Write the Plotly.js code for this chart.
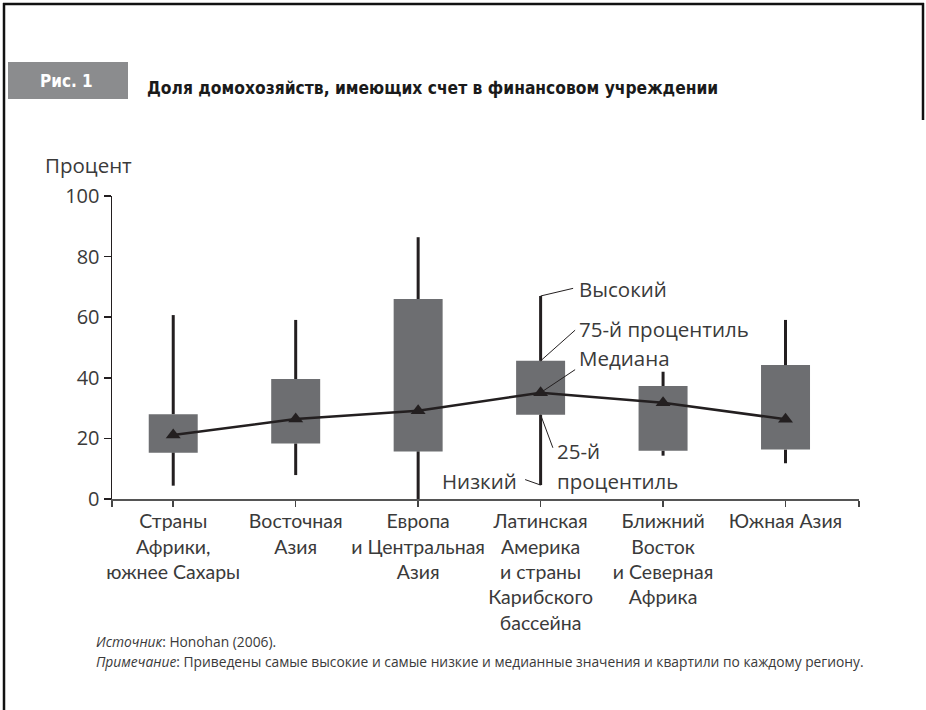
<!DOCTYPE html>
<html>
<head>
<meta charset="utf-8">
<script src="https://cdn.plot.ly/plotly-3.0.1.min.js"></script>
<style>html,body{margin:0;padding:0;background:#fff;}#chart{width:926px;height:710px;}</style>
</head>
<body>
<div id="chart"></div>
<script>
// ---- data ----
const categories = [
  'Страны<br>Африки,<br>южнее Сахары',
  'Восточная<br>Азия',
  'Европа<br>и Центральная<br>Азия',
  'Латинская<br>Америка<br>и страны<br>Карибского<br>бассейна',
  'Ближний<br>Восток<br>и Северная<br>Африка',
  'Южная Азия'
];
const low    = [4.4, 7.9, 0.0, 4.6, 14.3, 11.8];
const q1     = [15.3, 18.3, 15.7, 27.8, 15.9, 16.3];
const median = [21.1, 26.4, 29.1, 35.1, 31.8, 26.3];
const q3     = [28.0, 39.6, 66.0, 45.6, 37.3, 44.2];
const high   = [60.7, 59.1, 86.4, 67.0, 42.0, 59.1];
const yTicks = [0, 20, 40, 60, 80, 100];

const idx = categories.map((c, i) => i);
const ink = '#231f20';
const txt = '#3a3a3a';
const FONT = 'Open Sans, Noto Sans, sans-serif';
const LIGHT = 'Lato, Open Sans, sans-serif';
const NARROW = 'Liberation Sans Narrow, DejaVu Sans Condensed, sans-serif';

// whisker segments (outside the boxes)
const wx = [], wy = [];
idx.forEach(i => {
  wx.push(i, i, null, i, i, null);
  wy.push(low[i], q1[i], null, q3[i], high[i], null);
});

const traces = [
  {
    type: 'bar', x: idx, base: q1, y: idx.map(i => q3[i] - q1[i]),
    width: 0.4, marker: {color: '#6d6e71', line: {width: 0}},
    hoverinfo: 'skip', showlegend: false
  },
  {
    type: 'scatter', mode: 'lines', x: wx, y: wy,
    line: {color: ink, width: 3}, connectgaps: false,
    hoverinfo: 'skip', showlegend: false
  },
  {
    type: 'scatter', mode: 'lines+markers', x: idx, y: median,
    line: {color: ink, width: 2.5},
    marker: {symbol: 'triangle-up', size: 13, color: ink},
    hoverinfo: 'skip', showlegend: false
  }
];

// pixel -> paper helpers (plot area: x 112..859, y 196..499)
const L = 112, R = 859, T = 196, B = 499;
const PX = p => (p - L) / (R - L);
const PY = p => (B - p) / (B - T);

const li = 3; // Latin America index used for the key
function conn(yv, ax, ay) {
  return {x: li, y: yv, xref: 'x', yref: 'y', text: ' ', font: {size: 1},
    showarrow: true, arrowhead: 0, arrowwidth: 1, arrowcolor: ink,
    standoff: 0, startstandoff: 0, ax: ax, ay: ay};
}
function lab(yv, text, xs, ys, anchor) {
  return {x: li, y: yv, xref: 'x', yref: 'y', text: text, showarrow: false,
    xanchor: anchor || 'left', yanchor: 'middle', align: 'left',
    xshift: xs, yshift: ys, font: {family: FONT, size: 20.5, color: txt}};
}

const annotations = [
  // key connectors
  conn(high[li], 34, -8),
  conn(q3[li], 36, -32),
  conn(median[li], 36, -24),
  conn(q1[li], 13, 35),
  conn(low[li], -17, -6),
  // key labels
  lab(high[li], 'Высокий', 36, 7),
  lab(q3[li], '75-й процентиль', 36, 32),
  lab(median[li], 'Медиана', 36, 35),
  lab(q1[li], '25-й', 14, -36),
  lab(q1[li], 'процентиль', 14, -66),
  lab(low[li], 'Низкий', -22, 4, 'right'),
  // y-axis unit
  {xref: 'paper', yref: 'paper', x: PX(43), y: PY(165), xanchor: 'left', yanchor: 'middle',
   text: 'Процент', showarrow: false, font: {family: FONT, size: 20.5, color: txt}},
  // header
  {xref: 'paper', yref: 'paper', x: PX(66), y: PY(81), xanchor: 'center', yanchor: 'middle',
   text: '<b>Рис. 1</b>', showarrow: false, font: {family: NARROW, size: 17, color: '#ffffff'}},
  {xref: 'paper', yref: 'paper', x: PX(145), y: PY(88), xanchor: 'left', yanchor: 'middle',
   text: '<b>Доля домохозяйств, имеющих счет в финансовом учреждении</b>', showarrow: false,
   font: {family: NARROW, size: 17.3, color: '#1a1a1a'}},
  // notes
  {xref: 'paper', yref: 'paper', x: PX(94), y: PY(641), xanchor: 'left', yanchor: 'middle',
   text: '<i>Источник</i>: Honohan (2006).', showarrow: false,
   font: {family: FONT, size: 13.8, color: txt}},
  {xref: 'paper', yref: 'paper', x: PX(94), y: PY(661), xanchor: 'left', yanchor: 'middle',
   text: '<i>Примечание</i>: Приведены самые высокие и самые низкие и медианные значения и квартили по каждому региону.',
   showarrow: false, font: {family: FONT, size: 13.8, color: txt}}
];

const shapes = [
  // frame
  {type: 'line', xref: 'paper', yref: 'paper', x0: PX(4), x1: PX(4), y0: PY(3), y1: PY(715), line: {color: '#111', width: 2.5}},
  {type: 'line', xref: 'paper', yref: 'paper', x0: PX(3), x1: PX(924), y0: PY(4), y1: PY(4), line: {color: '#111', width: 2.5}},
  {type: 'line', xref: 'paper', yref: 'paper', x0: PX(923), x1: PX(923), y0: PY(3), y1: PY(120), line: {color: '#111', width: 2.5}},
  // figure label box
  {type: 'rect', xref: 'paper', yref: 'paper', x0: PX(8), x1: PX(128), y0: PY(99), y1: PY(62),
   fillcolor: '#8b8c8e', line: {width: 0}, layer: 'below'}
];

const layout = {
  width: 926, height: 710,
  margin: {l: L, r: 926 - R, t: T, b: 710 - B, pad: 0},
  paper_bgcolor: '#ffffff', plot_bgcolor: '#ffffff',
  showlegend: false,
  xaxis: {
    range: [-0.5, 5.6], tickmode: 'array',
    tickvals: [-0.5].concat(idx, [5.6]),
    ticktext: [''].concat(categories, ['']),
    ticks: 'outside', ticklen: 6, tickwidth: 1.5, tickcolor: '#444',
    ticklabelstandoff: -2,
    showline: true, linecolor: '#555', linewidth: 2,
    showgrid: false, zeroline: false, fixedrange: true,
    tickfont: {family: LIGHT, size: 19.5, color: txt}
  },
  yaxis: {
    range: [0, 100], tickmode: 'array', tickvals: yTicks,
    ticks: 'outside', ticklen: 7, tickwidth: 1.5, tickcolor: ink,
    showline: true, linecolor: ink, linewidth: 1.5,
    showgrid: false, zeroline: false, fixedrange: true,
    tickfont: {family: FONT, size: 20, color: txt}
  },
  annotations: annotations,
  shapes: shapes,
  font: {family: FONT, color: txt}
};

Plotly.newPlot('chart', traces, layout, {displayModeBar: false, staticPlot: true});
</script>
</body>
</html>
